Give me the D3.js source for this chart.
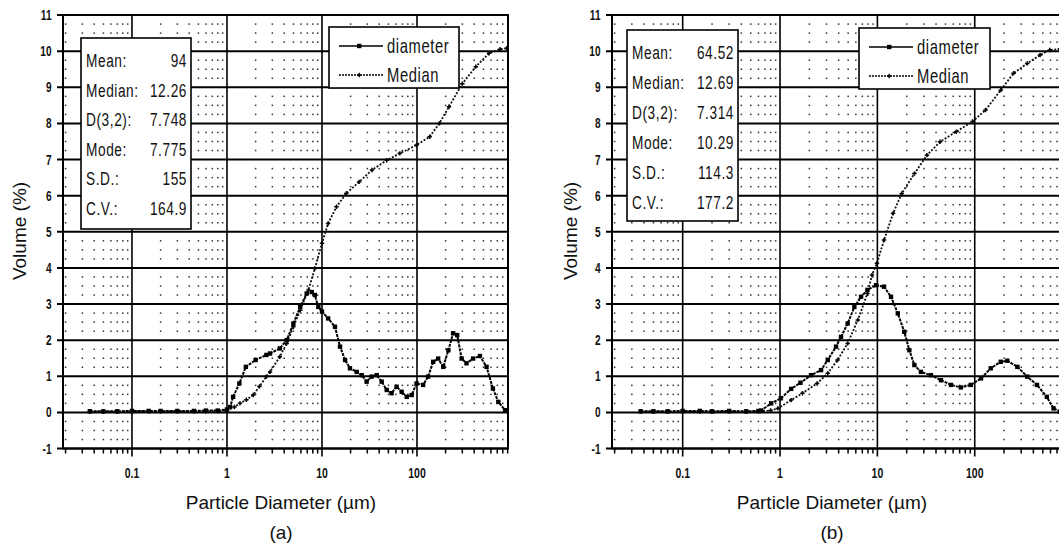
<!DOCTYPE html>
<html>
<head>
<meta charset="utf-8">
<title>Particle size distribution</title>
<script src="https://cdn.jsdelivr.net/npm/d3@7"></script>
<style>
 body { margin: 0; background: #fff; }
 text { font-family: "Liberation Sans", Arial, sans-serif; fill: #111; }
</style>
</head>
<body>
<svg id="chart" width="1059" height="548"></svg>
<script>
// ---- data ----
var xTickValues = [0.1, 1, 10, 100];
var xTickLabels = ["0.1", "1", "10", "100"];
var yTickValues = [-1, 0, 1, 2, 3, 4, 5, 6, 7, 8, 9, 10, 11];

// panel (a)
var aDiamX = [0.036, 0.05, 0.07, 0.1, 0.15, 0.2, 0.3, 0.45, 0.6, 0.8, 1.0, 1.08, 1.16, 1.35, 1.58, 2.0, 2.6, 2.84, 3.6, 4.25, 5.0, 5.9, 6.9, 7.8, 8.4, 9.15, 10, 11.6, 13.7, 15.5, 17.5, 19.7, 23.2, 26.2, 29.5, 33.3, 37.7, 42.5, 48, 54, 61, 69, 78, 88, 99, 116, 131, 148, 167, 189, 214, 240, 265, 295, 332, 390, 460, 540, 630, 718, 846];
var aDiamY = [0.03, 0.03, 0.03, 0.04, 0.04, 0.04, 0.04, 0.04, 0.05, 0.05, 0.08, 0.15, 0.43, 0.8, 1.26, 1.45, 1.59, 1.63, 1.77, 2.0, 2.46, 2.92, 3.29, 3.33, 3.25, 2.92, 2.79, 2.6, 2.37, 1.82, 1.45, 1.22, 1.12, 1.03, 0.85, 0.99, 1.03, 0.85, 0.62, 0.53, 0.71, 0.57, 0.43, 0.48, 0.8, 0.76, 0.99, 1.4, 1.49, 1.26, 1.72, 2.19, 2.14, 1.49, 1.36, 1.49, 1.56, 1.26, 0.66, 0.29, 0.06];
var aMedX = [0.036, 0.05, 0.07, 0.1, 0.15, 0.2, 0.3, 0.45, 0.6, 0.8, 1.0, 1.2, 1.37, 1.6, 1.89, 2.2, 2.6, 2.84, 3.6, 4.25, 5.0, 5.9, 7.2, 8.4, 10, 11.6, 14.2, 18, 24.6, 33.6, 48, 66, 99, 136, 172, 217, 300, 416, 574, 750, 880];
var aMedY = [0.02, 0.02, 0.02, 0.03, 0.03, 0.03, 0.03, 0.03, 0.03, 0.03, 0.05, 0.15, 0.25, 0.35, 0.48, 0.72, 0.99, 1.12, 1.54, 1.91, 2.37, 2.83, 3.39, 3.98, 4.68, 5.23, 5.69, 6.06, 6.38, 6.71, 6.98, 7.17, 7.4, 7.63, 8.0, 8.46, 9.1, 9.57, 9.94, 10.05, 10.08];
var aStatLabels = ["Mean:", "Median:", "D(3,2):", "Mode:", "S.D.:", "C.V.:"];
var aStatValues = ["94", "12.26", "7.748", "7.775", "155", "164.9"];

// panel (b)
var bDiamX = [0.037, 0.05, 0.07, 0.1, 0.15, 0.2, 0.3, 0.45, 0.6, 0.64, 0.81, 1.02, 1.3, 1.62, 2.08, 2.64, 3.09, 3.76, 4.23, 4.95, 5.8, 6.8, 7.9, 9.7, 11.7, 13.8, 16.2, 18.9, 21.3, 24, 28, 35.5, 45, 57, 72, 91, 116, 146, 185, 216, 274, 346, 436, 550, 645, 750, 880];
var bDiamY = [0.03, 0.03, 0.03, 0.04, 0.04, 0.03, 0.04, 0.03, 0.04, 0.05, 0.25, 0.39, 0.65, 0.82, 1.03, 1.17, 1.45, 1.82, 2.09, 2.46, 2.92, 3.2, 3.39, 3.52, 3.48, 3.2, 2.74, 2.23, 1.72, 1.31, 1.12, 1.03, 0.89, 0.76, 0.69, 0.76, 0.94, 1.22, 1.4, 1.43, 1.26, 0.99, 0.76, 0.43, 0.11, 0.02, 0.02];
var bMedX = [0.037, 0.05, 0.07, 0.1, 0.15, 0.2, 0.3, 0.45, 0.6, 0.8, 0.95, 1.3, 1.7, 2.4, 3.09, 3.9, 4.95, 6.3, 7.9, 8.8, 9.9, 11.7, 14.5, 17.8, 24, 32.3, 44, 64.5, 95, 129, 185, 251, 346, 469, 590, 750, 880];
var bMedY = [0.02, 0.02, 0.02, 0.02, 0.02, 0.02, 0.02, 0.02, 0.03, 0.05, 0.11, 0.34, 0.53, 0.8, 1.08, 1.45, 1.91, 2.56, 3.29, 3.8, 4.13, 4.77, 5.51, 6.06, 6.61, 7.12, 7.49, 7.77, 8.05, 8.37, 8.92, 9.39, 9.66, 9.89, 10.03, 10.06, 10.08];
var bStatLabels = ["Mean:", "Median:", "D(3,2):", "Mode:", "S.D.:", "C.V.:"];
var bStatValues = ["64.52", "12.69", "7.314", "10.29", "114.3", "177.2"];

var seriesNames = ["diameter", "Median"];

// ---- layout ----
var panels = [
  {left: 63, right: 508, diam: d3.zip(aDiamX, aDiamY), med: d3.zip(aMedX, aMedY),
   labels: aStatLabels, values: aStatValues,
   box: {x: 81, y: 38, w: 110, h: 191, y0: 60, dy: 29.6},
   legend: {x: 329, y: 27, w: 130, h: 61},
   yTitleX: 26, xTitleX: 281, tag: "(a)"},
  {left: 612, right: 1068, diam: d3.zip(bDiamX, bDiamY), med: d3.zip(bMedX, bMedY),
   labels: bStatLabels, values: bStatValues,
   box: {x: 627, y: 30, w: 111, h: 191, y0: 52, dy: 30},
   legend: {x: 859, y: 28, w: 131, h: 61},
   yTitleX: 577, xTitleX: 832, tag: "(b)"}
];
var plotTop = 15, plotBottom = 448.5;
var xDomain = [Math.pow(10, -1.726), Math.pow(10, 2.958)];

var svg = d3.select("#chart");

function narrow(sel, x, y, sx) {
  sel.attr("transform", "translate(" + x + "," + y + ") scale(" + sx + ",1)");
}

panels.forEach(function(p) {
  var g = svg.append("g");
  var x = d3.scaleLog().domain(xDomain).range([p.left, p.right]);
  var y = d3.scaleLinear().domain([-1, 11]).range([plotBottom, plotTop]);

  // minor ticks along x (2..9 in each decade)
  var minor = [];
  [0.01, 0.1, 1, 10, 100].forEach(function(d) {
    for (var k = 2; k <= 9; k++) {
      var v = k * d;
      if (v > xDomain[0] && v < xDomain[1]) minor.push(v);
    }
  });
  var minorY = [];
  for (var i = -1; i < 11; i++) minorY.push(i + 0.25, i + 0.5, i + 0.75);

  // dotted minor grid
  var dots = g.append("g").attr("fill", "#333");
  minor.forEach(function(mx) {
    minorY.forEach(function(my) {
      dots.append("rect").attr("x", x(mx) - 0.7).attr("y", y(my) - 0.7)
        .attr("width", 1.5).attr("height", 1.5);
    });
  });

  // major grid
  g.append("g").selectAll("line").data(yTickValues).join("line")
    .attr("x1", p.left - 6).attr("x2", p.right)
    .attr("y1", function(d) { return y(d); }).attr("y2", function(d) { return y(d); })
    .attr("stroke", "#000").attr("stroke-width", 2);
  g.append("g").selectAll("line").data(xTickValues).join("line")
    .attr("x1", function(d) { return x(d); }).attr("x2", function(d) { return x(d); })
    .attr("y1", plotTop).attr("y2", plotBottom + 8)
    .attr("stroke", "#000").attr("stroke-width", 1.6);
  g.append("g").selectAll("line").data(minor).join("line")
    .attr("x1", function(d) { return x(d); }).attr("x2", function(d) { return x(d); })
    .attr("y1", plotBottom).attr("y2", plotBottom + 5)
    .attr("stroke", "#000").attr("stroke-width", 1.5);
  g.append("rect").attr("x", p.left).attr("y", plotTop)
    .attr("width", p.right - p.left).attr("height", plotBottom - plotTop)
    .attr("fill", "none").attr("stroke", "#000").attr("stroke-width", 2);

  // tick labels
  yTickValues.forEach(function(v) {
    var t = g.append("text").attr("text-anchor", "end").attr("dy", "0.36em")
      .style("font-size", "14px").style("font-weight", "bold").text(v);
    narrow(t, p.left - 11.5, y(v), 0.72);
  });
  xTickValues.forEach(function(v, i) {
    var t = g.append("text").attr("text-anchor", "middle")
      .style("font-size", "14px").style("font-weight", "bold").text(xTickLabels[i]);
    narrow(t, x(v), plotBottom + 29, 0.75);
  });

  // series
  var line = d3.line().x(function(d) { return x(d[0]); }).y(function(d) { return y(d[1]); });
  g.append("path").datum(p.med).attr("d", line)
    .attr("fill", "none").attr("stroke", "#111").attr("stroke-width", 1.8)
    .attr("stroke-dasharray", "2,1.6");
  g.append("g").selectAll("path").data(p.med).join("path")
    .attr("d", function(d) { var cx = x(d[0]), cy = y(d[1]);
      return "M" + (cx - 2.2) + "," + cy + "h4.4M" + cx + "," + (cy - 2.2) + "v4.4"; })
    .attr("stroke", "#000").attr("stroke-width", 1.5);
  g.append("path").datum(p.diam).attr("d", line)
    .attr("fill", "none").attr("stroke", "#000").attr("stroke-width", 2)
    .attr("stroke-dasharray", "3,1");
  g.append("g").selectAll("rect").data(p.diam).join("rect")
    .attr("x", function(d) { return x(d[0]) - 2.2; }).attr("y", function(d) { return y(d[1]) - 2.2; })
    .attr("width", 4.4).attr("height", 4.4).attr("fill", "#000");

  // statistics box
  var b = p.box;
  g.append("rect").attr("x", b.x).attr("y", b.y).attr("width", b.w).attr("height", b.h)
    .attr("fill", "#fff").attr("stroke", "#000").attr("stroke-width", 1.6);
  p.labels.forEach(function(lab, i) {
    var ty = b.y0 + i * b.dy + 7;
    var t1 = g.append("text").style("font-size", "19px").style("letter-spacing", "0.8px").text(lab);
    narrow(t1, b.x + 5, ty, 0.72);
    var t2 = g.append("text").attr("text-anchor", "end").style("font-size", "19px")
      .style("letter-spacing", "0.8px").text(p.values[i]);
    narrow(t2, b.x + b.w - 4, ty, 0.72);
  });

  // legend
  var L = p.legend;
  g.append("rect").attr("x", L.x).attr("y", L.y).attr("width", L.w).attr("height", L.h)
    .attr("fill", "#fff").attr("stroke", "#000").attr("stroke-width", 1.6);
  seriesNames.forEach(function(name, i) {
    var ly = L.y + 19 + i * 29;
    g.append("line").attr("x1", L.x + 10).attr("x2", L.x + 54).attr("y1", ly).attr("y2", ly)
      .attr("stroke", "#000").attr("stroke-width", 1.5)
      .attr("stroke-dasharray", i === 1 ? "2,1" : null);
    if (i === 0) {
      g.append("rect").attr("x", L.x + 28).attr("y", ly - 2.2).attr("width", 4.4).attr("height", 4.4).attr("fill", "#000");
    } else {
      g.append("path").attr("d", "M" + (L.x + 28) + "," + ly + "h4.4M" + (L.x + 30.2) + "," + (ly - 2.2) + "v4.4")
        .attr("stroke", "#000").attr("stroke-width", 1.4);
    }
    var t = g.append("text").attr("dy", "0.36em").style("font-size", "20px")
      .style("letter-spacing", "0.8px").text(name);
    narrow(t, L.x + 58, ly, 0.74);
  });

  // axis titles
  g.append("text").attr("text-anchor", "middle").style("font-size", "19px")
    .attr("transform", "translate(" + p.yTitleX + ",231) rotate(-90)").text("Volume (%)");
  g.append("text").attr("text-anchor", "middle").style("font-size", "19px")
    .attr("x", p.xTitleX).attr("y", 509).text("Particle Diameter (\u00b5m)");
  g.append("text").attr("text-anchor", "middle").style("font-size", "19px")
    .attr("x", p.xTitleX).attr("y", 539).text(p.tag);
});
</script>
</body>
</html>
